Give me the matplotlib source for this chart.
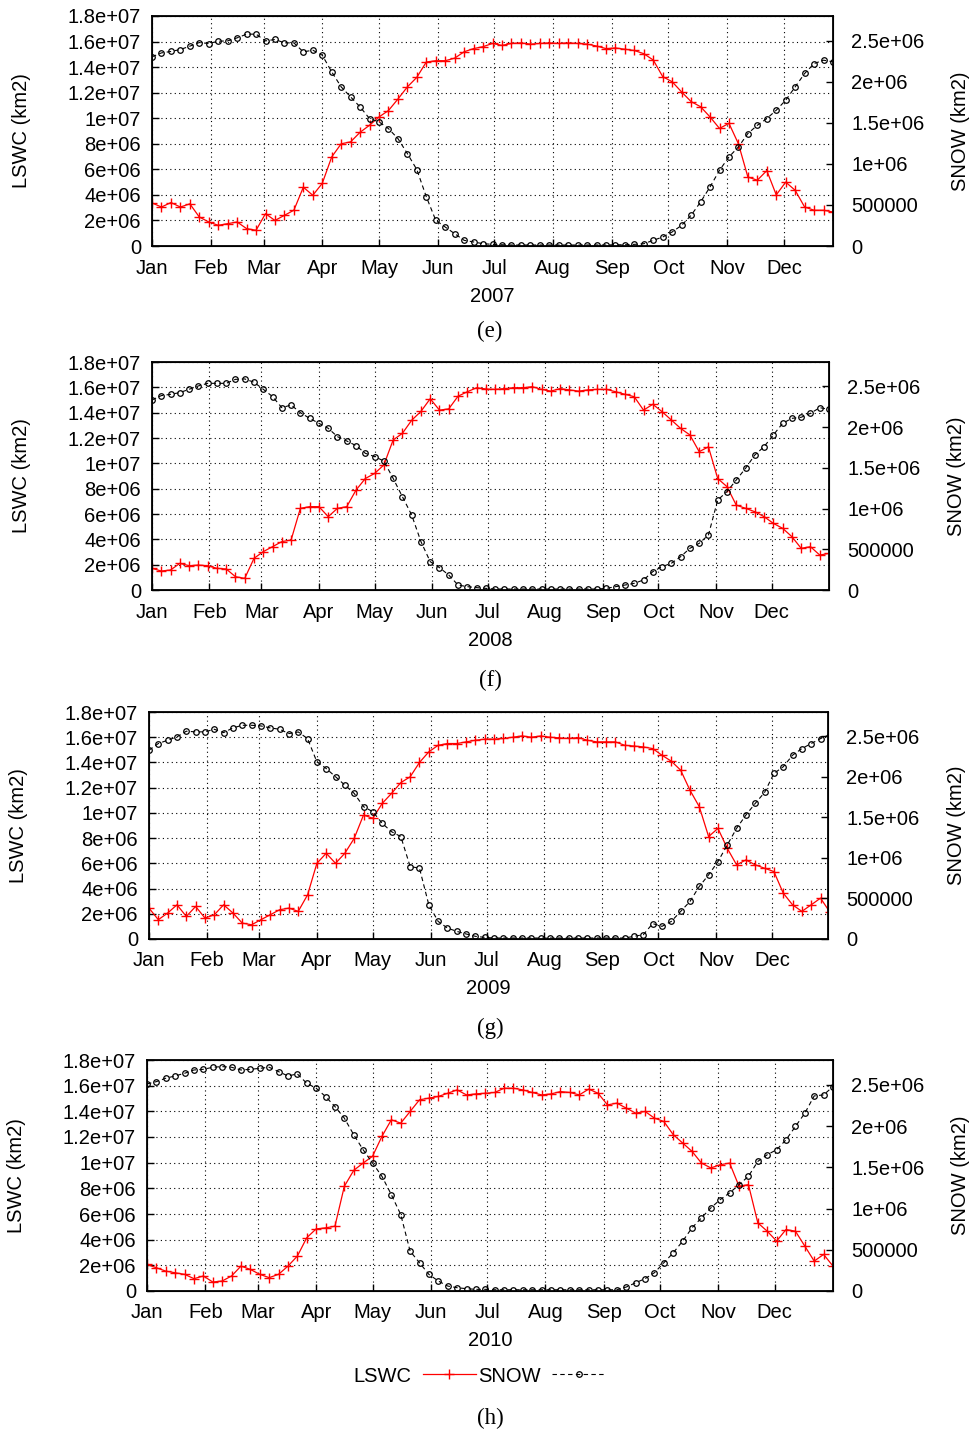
import matplotlib.pyplot as plt
import numpy as np

plt.rcParams['font.family'] = ['Liberation Sans', 'DejaVu Sans']

# LSWC in 1e6 km2, SNOW in 1e3 km2, one value every 5 days from 1 Jan
lswc_2007 = [3.37, 3.05, 3.40, 3.05, 3.30, 2.27, 1.88, 1.62, 1.75, 1.88, 1.36, 1.23,
             2.53, 2.00, 2.40, 2.80, 4.60, 3.97, 4.90, 6.97, 8.00, 8.15, 8.90, 9.45,
             10.1, 10.6, 11.5, 12.45, 13.2, 14.4, 14.5, 14.5, 14.7, 15.2, 15.45, 15.6,
             15.85, 15.7, 15.85, 15.9, 15.8, 15.85, 15.9, 15.85, 15.9, 15.85, 15.8, 15.65,
             15.45, 15.5, 15.4, 15.3, 15.05, 14.55, 13.25, 12.85, 12.05, 11.3, 10.9, 10.1,
             9.2, 9.6, 8.0, 5.4, 5.15, 5.9, 4.0, 5.0, 4.36, 3.05, 2.8, 2.8,
             2.66]
snow_2007 = [2303, 2351, 2368, 2392, 2433, 2477, 2465, 2493, 2497, 2534, 2579, 2579,
             2497, 2514, 2473, 2473, 2363, 2384, 2323, 2120, 1937, 1815, 1693, 1551,
             1511, 1429, 1308, 1125, 930, 600, 313, 231, 150, 69, 49, 28,
             20, 15, 12, 12, 12, 12, 12, 12, 12, 12, 12, 12,
             12, 15, 15, 20, 28, 69, 110, 171, 252, 374, 536, 719,
             922, 1084, 1206, 1369, 1470, 1551, 1653, 1775, 1937, 2100, 2221, 2262,
             2242]

lswc_2008 = [1.71, 1.50, 1.58, 2.10, 1.92, 1.97, 1.92, 1.71, 1.66, 1.05, 0.92, 2.50,
             3.03, 3.42, 3.82, 3.95, 6.45, 6.58, 6.58, 5.79, 6.45, 6.58, 7.89, 8.80,
             9.20, 9.87, 11.84, 12.37, 13.4, 14.1, 15.1, 14.2, 14.3, 15.3, 15.65, 15.97,
             15.87, 15.84, 15.9, 15.97, 15.97, 16.05, 15.84, 15.7, 15.9, 15.8, 15.7, 15.8,
             15.84, 15.84, 15.65, 15.45, 15.26, 14.2, 14.66, 14.08, 13.42, 12.76, 12.24, 10.92,
             11.3, 8.8, 8.16, 6.7, 6.45, 6.18, 5.79, 5.26, 4.87, 4.21, 3.29, 3.42,
             2.76, 2.89]
snow_2008 = [2334, 2387, 2403, 2424, 2465, 2506, 2538, 2538, 2538, 2587, 2592, 2551,
             2465, 2375, 2239, 2272, 2178, 2108, 2047, 1986, 1883, 1830, 1773, 1679,
             1638, 1584, 1371, 1146, 921, 594, 348, 274, 184, 61, 41, 29,
             20, 12, 12, 12, 12, 12, 12, 12, 12, 12, 12, 12,
             12, 20, 41, 61, 82, 123, 225, 287, 328, 409, 512, 573,
             676, 1105, 1208, 1351, 1494, 1658, 1760, 1904, 2047, 2108, 2121, 2170,
             2239, 2219]

lswc_2009 = [2.45, 1.53, 2.06, 2.71, 1.79, 2.58, 1.66, 1.92, 2.71, 2.06, 1.26, 1.13,
             1.53, 1.92, 2.32, 2.45, 2.19, 3.50, 6.00, 6.80, 6.00, 6.80, 7.98, 9.83,
             9.57, 10.75, 11.54, 12.4, 12.86, 14.0, 14.84, 15.36, 15.5, 15.5, 15.63, 15.76,
             15.85, 15.85, 15.9, 16.0, 16.1, 16.0, 16.1, 16.0, 15.95, 15.9, 15.97, 15.76,
             15.63, 15.63, 15.63, 15.36, 15.3, 15.23, 15.1, 14.57, 14.1, 13.39, 11.8, 10.49,
             8.12, 8.77, 7.19, 5.88, 6.27, 5.88, 5.61, 5.35, 3.64, 2.71, 2.19, 2.71,
             3.24, 2.13]
snow_2009 = [2329, 2411, 2452, 2493, 2563, 2555, 2555, 2587, 2546, 2604, 2636, 2636,
             2628, 2604, 2587, 2534, 2554, 2472, 2185, 2103, 2001, 1898, 1796, 1632,
             1570, 1427, 1324, 1263, 894, 873, 422, 217, 135, 94, 62, 33,
             20, 12, 12, 12, 12, 12, 12, 12, 12, 12, 12, 12,
             12, 12, 12, 12, 33, 53, 190, 156, 217, 340, 463, 648,
             791, 955, 1160, 1365, 1529, 1673, 1808, 2042, 2124, 2267, 2349, 2411,
             2472, 2522]

lswc_2010 = [2.07, 1.81, 1.55, 1.42, 1.30, 0.96, 1.17, 0.70, 0.78, 1.17, 1.94, 1.68,
             1.30, 1.04, 1.30, 1.94, 2.72, 4.15, 4.84, 4.92, 5.05, 8.16, 9.40, 9.97,
             10.5, 12.05, 13.34, 13.08, 13.99, 14.9, 15.03, 15.16, 15.41, 15.67, 15.28, 15.36,
             15.41, 15.47, 15.8, 15.8, 15.67, 15.47, 15.28, 15.36, 15.54, 15.47, 15.28, 15.73,
             15.41, 14.5, 14.64, 14.25, 13.86, 13.99, 13.47, 13.21, 12.18, 11.53, 10.88, 9.97,
             9.59, 9.84, 9.97, 8.16, 8.29, 5.31, 4.66, 3.89, 4.79, 4.66, 3.50, 2.33,
             2.85, 1.94]
snow_2010 = [2510, 2538, 2579, 2607, 2639, 2679, 2687, 2712, 2720, 2712, 2679, 2687,
             2699, 2712, 2659, 2607, 2631, 2518, 2458, 2357, 2236, 2095, 1894, 1712,
             1551, 1390, 1168, 927, 483, 342, 201, 121, 60, 40, 28, 20,
             20, 15, 15, 15, 15, 15, 15, 15, 15, 15, 15, 15,
             15, 15, 15, 48, 100, 149, 222, 342, 463, 604, 766, 886,
             1007, 1108, 1189, 1289, 1390, 1571, 1652, 1712, 1833, 1994, 2155, 2365,
             2377, 2478]

years = ['2007', '2008', '2009', '2010']
captions = ['(e)', '(f)', '(g)', '(h)']
lswc_all = [lswc_2007, lswc_2008, lswc_2009, lswc_2010]
snow_all = [snow_2007, snow_2008, snow_2009, snow_2010]
xmax = [360, 365, 364, 365]

months = ['Jan', 'Feb', 'Mar', 'Apr', 'May', 'Jun', 'Jul', 'Aug', 'Sep', 'Oct', 'Nov', 'Dec']
month_start = [0, 31, 59, 90, 120, 151, 181, 212, 243, 273, 304, 334]
lswc_ticks = [0, 2e6, 4e6, 6e6, 8e6, 1e7, 1.2e7, 1.4e7, 1.6e7, 1.8e7]
lswc_labels = ['0', '2e+06', '4e+06', '6e+06', '8e+06', '1e+07', '1.2e+07', '1.4e+07', '1.6e+07', '1.8e+07']
snow_ticks = [0, 5e5, 1e6, 1.5e6, 2e6, 2.5e6]
snow_labels = ['0', '500000', '1e+06', '1.5e+06', '2e+06', '2.5e+06']

W, H = 975, 1434
# axes boxes in pixels: left, top, right, bottom
boxes = [(152, 16, 833, 246), (152, 362, 829, 590), (149, 712, 828, 939), (147, 1060, 833, 1291)]
caption_y = [331, 680, 1028, 1418]
fs = 14.5

fig = plt.figure(figsize=(W / 100, H / 100), dpi=100)

for i in range(4):
    l, t, r, b = boxes[i]
    ax = fig.add_axes([l / W, 1 - b / H, (r - l) / W, (b - t) / H])
    days = 5 * np.arange(len(lswc_all[i]))
    lswc = np.array(lswc_all[i]) * 1e6
    snow = np.array(snow_all[i]) * 1e3

    h1, = ax.plot(days, lswc, color='red', lw=0.9, marker='+', ms=7.5, mew=1.0)
    ax.set_xlim(0, xmax[i])
    ax.set_ylim(0, 1.8e7)
    ax.set_xticks(month_start, months)
    ax.set_yticks(lswc_ticks, lswc_labels)
    ax.grid(True, color='black', ls=(0, (1, 3)), lw=0.8)
    ax.set_axisbelow(True)
    ax.tick_params(direction='in', length=5, width=1, labelsize=fs)
    ax.tick_params(axis='x', pad=9)
    ax.tick_params(axis='y', pad=8)
    for s in ax.spines.values():
        s.set_linewidth(1.3)

    ax2 = ax.twinx()
    h2, = ax2.plot(days, snow, color='black', ls=(0, (4, 3)), lw=0.8, marker='o', ms=4,
                   mfc='none', mew=0.9)
    ax2.set_ylim(0, 2.8e6)
    ax2.set_yticks(snow_ticks, snow_labels)
    ax2.tick_params(direction='in', length=5, width=1, labelsize=fs, pad=13)

    fig.text((l - 130) / W, 1 - (t + b) / 2 / H, 'LSWC (km2)', rotation=90,
             ha='center', va='center', fontsize=fs)
    fig.text((r + 128) / W, 1 - (t + b) / 2 / H, 'SNOW (km2)', rotation=90,
             ha='center', va='center', fontsize=fs)
    fig.text((l + r) / 2 / W, 1 - (b + 50) / H, years[i], ha='center', va='center', fontsize=fs)
    fig.text(490 / W, 1 - caption_y[i] / H, captions[i], ha='center', va='center',
             fontsize=16.5, family='Liberation Serif')

fig.legend([h1, h2], ['LSWC', 'SNOW'], loc='center', bbox_to_anchor=(479 / W, 1 - 1376 / H),
           ncol=2, frameon=False, markerfirst=False, numpoints=1, handlelength=2.6,
           handletextpad=0.6, columnspacing=0.1, fontsize=fs)

fig.savefig('out.png', dpi=100)
